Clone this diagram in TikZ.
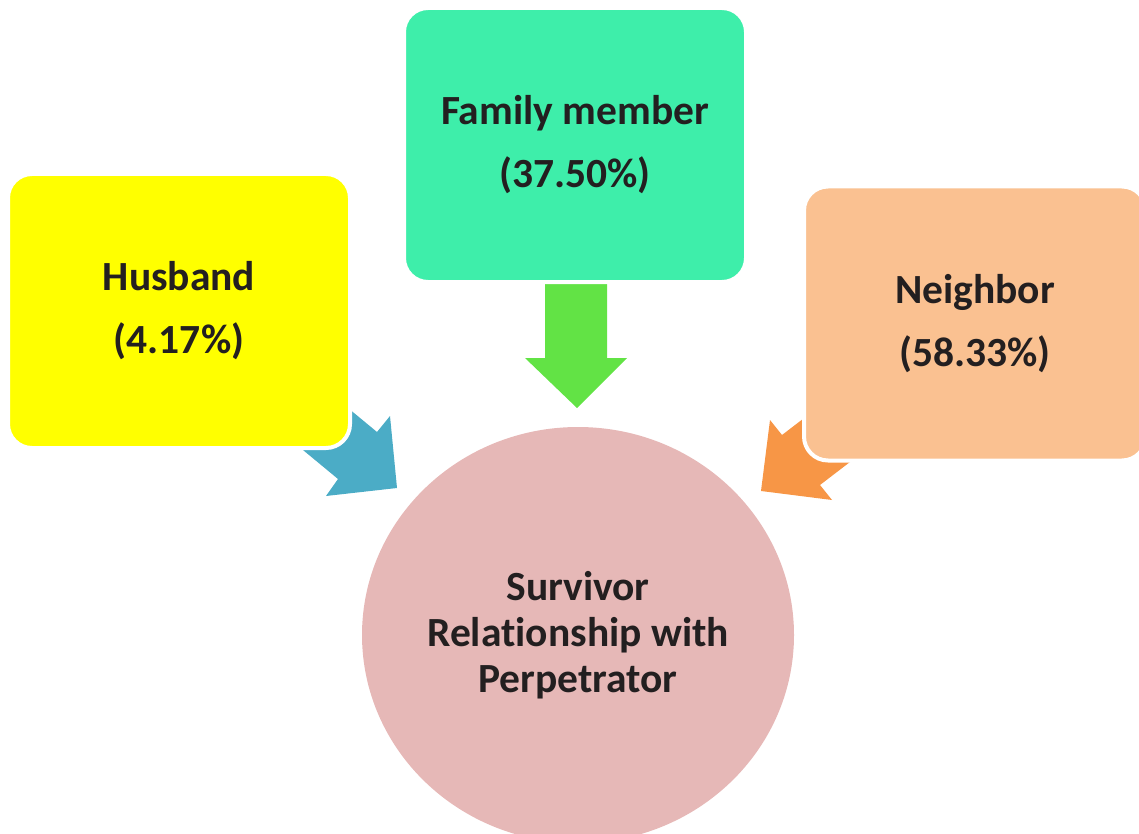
\documentclass[tikz,border=0pt]{standalone}
\usepackage{fontspec}
\setmainfont[Ligatures=NoCommon]{Carlito}
\usetikzlibrary{shapes.geometric}
\pgfdeclarelayer{background}
\pgfsetlayers{background,main}
\definecolor{ybox}{HTML}{FFFF00}
\definecolor{gbox}{HTML}{3EEEAA}
\definecolor{obox}{HTML}{FAC191}
\definecolor{cfill}{HTML}{E6B8B7}
\definecolor{barrow}{HTML}{4BACC6}
\definecolor{garrow}{HTML}{62E345}
\definecolor{oarrow}{HTML}{F79646}
\definecolor{tcol}{HTML}{231F20}
\tikzset{
  box/.style={rounded corners=24pt, draw=white, line width=4pt,
    minimum width=342pt, minimum height=274pt, align=center, text=tcol,
    font=\fontsize{41.5}{63}\selectfont\bfseries, inner sep=0pt},
  hub/.style={ellipse, fill=cfill, minimum width=432pt, minimum height=416pt,
    align=center, text=tcol, font=\fontsize{41.5}{46}\selectfont\bfseries, inner sep=0pt},
  blockarrow/.style={draw=none}
}
\begin{document}
\begin{tikzpicture}[x=1pt,y=-1pt]
\useasboundingbox (0,0) rectangle (1139,834);
\node[hub] (center) at (578,635) {Survivor\\Relationship with\\Perpetrator};
\node[box, fill=ybox] (husband) at (179,311) {Husband\\(4.17\%)};
\node[box, fill=gbox] (family) at (575,145) {Family member\\(37.50\%)};
\node[box, fill=obox] (neighbor) at (975,323.5) {Neighbor\\(58.33\%)};
\begin{pgfonlayer}{background}
\fill[blockarrow, barrow] (319,384) -- (377,432) -- (390,416) -- (397,488) -- (326,496) -- (338,479) -- (280,431) -- cycle;
\fill[blockarrow, garrow] (545,260) -- (607,260) -- (607,358) -- (627,358) -- (577,408) -- (525,358) -- (545,358) -- cycle;
\fill[blockarrow, oarrow] (842,389) -- (782,435) -- (770,420) -- (761,491) -- (832,500) -- (820,485) -- (880,439) -- cycle;
\end{pgfonlayer}
\end{tikzpicture}
\end{document}
